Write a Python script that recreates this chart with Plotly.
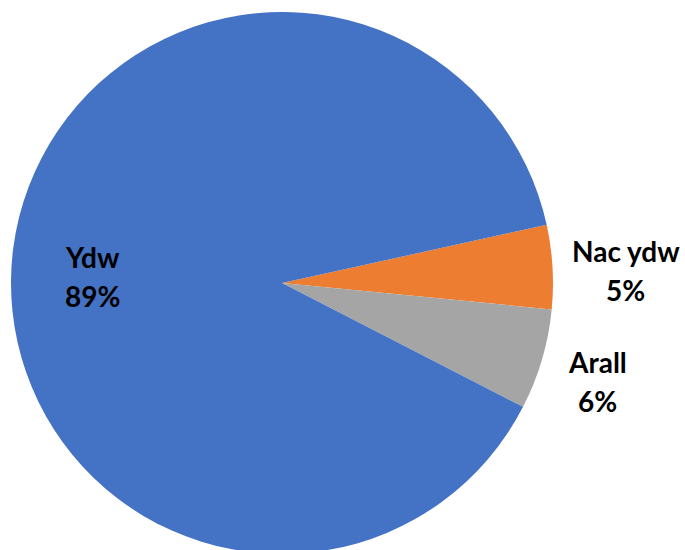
import math
import plotly.graph_objects as go

labels = ["Nac ydw", "Arall", "Ydw"]
values = [5, 6, 89]
colors = ["#ED7D31", "#A5A5A5", "#4472C4"]

W, H = 685, 554                # figure is slightly taller than the 550 window, as the pie bleeds off the bottom
cx, cy, r = 282, 283, 271      # pie centre (px from top-left) and radius
start_deg = 12.4               # first slice starts this many degrees above 3 o'clock

# label placement: radius factor relative to pie radius, pixel shift down, line gap
label_radius = [1.2716, 1.2155, 0.7033]
label_dy = [8.4, 5.0, 18.4]
line_gap = 39

fig = go.Figure(go.Pie(
    labels=labels,
    values=values,
    sort=False,
    direction="clockwise",
    rotation=90 - start_deg,
    marker=dict(colors=colors, line=dict(width=0)),
    textinfo="none",
    showlegend=False,
    hoverinfo="label+percent",
    domain=dict(x=[(cx - r) / W, (cx + r) / W], y=[max(0, (H - cy - r) / H), (H - cy + r) / H]),
))

total = sum(values)
angle = start_deg
annotations = []
font = dict(family="Lato, Liberation Sans, Arial", size=28, color="#000000")
for lab, val, rf, dy in zip(labels, values, label_radius, label_dy):
    span = 360 * val / total
    mid = math.radians(angle - span / 2)
    angle -= span
    px = cx + r * rf * math.cos(mid)
    py = cy - r * rf * math.sin(mid) + dy
    for txt, off in ((lab, -line_gap / 2), (f"{round(100 * val / total)}%", line_gap / 2)):
        annotations.append(dict(
            x=px / W, y=1 - (py + off) / H, xref="paper", yref="paper",
            text=f"<b>{txt}</b>",
            showarrow=False, align="center", xanchor="center", yanchor="middle",
            font=font,
        ))

fig.update_layout(
    width=W, height=H,
    margin=dict(l=0, r=0, t=0, b=0),
    paper_bgcolor="white",
    plot_bgcolor="white",
    annotations=annotations,
)

fig.write_html(
    "out.html",
    config={"displayModeBar": False},
    post_script="document.body.style.margin='0';document.body.style.overflow='hidden';",
)
